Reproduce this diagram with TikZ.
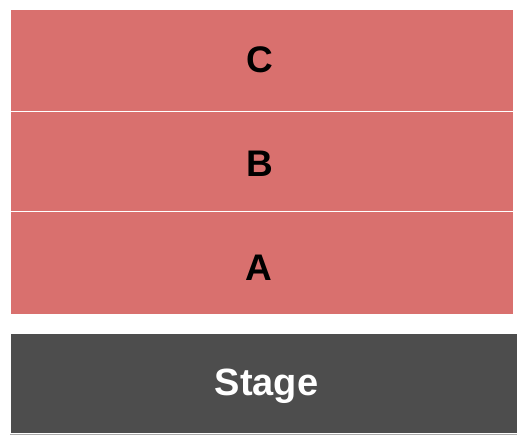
\documentclass[tikz,border=0pt]{standalone}
\usepackage{fontspec}
\setmainfont{Liberation Sans}
\definecolor{sect}{RGB}{217,112,110}
\definecolor{stagec}{RGB}{77,77,77}
\definecolor{lineg}{RGB}{170,170,170}
\begin{document}
\begin{tikzpicture}[x=1pt,y=-1pt,
  sectbox/.style={fill=sect,draw=none},
  lbl/.style={font=\fontsize{37}{37}\selectfont\bfseries,anchor=base,inner sep=0pt},
  divider/.style={draw=white,line width=1pt}]
\useasboundingbox (0,0) rectangle (525,444);
\fill[white] (0,0) rectangle (525,444);
\fill[sectbox] (11,10) rectangle (513,314);
\draw[divider] (11,111) -- (513,111);
\draw[divider] (11,211) -- (513,211);
\fill[stagec] (11,334) rectangle (517,433);
\draw[lineg,line width=1pt] (10,434.5) -- (517,434.5);
\node[lbl,text=black] (c) at (259.5,73) {C};
\node[lbl,text=black] (b) at (259.5,176) {B};
\node[lbl,text=black] (a) at (259,280) {A};
\node[lbl,text=white,font=\fontsize{38}{38}\selectfont\bfseries] (s) at (266.5,395) {Stage};
\end{tikzpicture}
\end{document}
